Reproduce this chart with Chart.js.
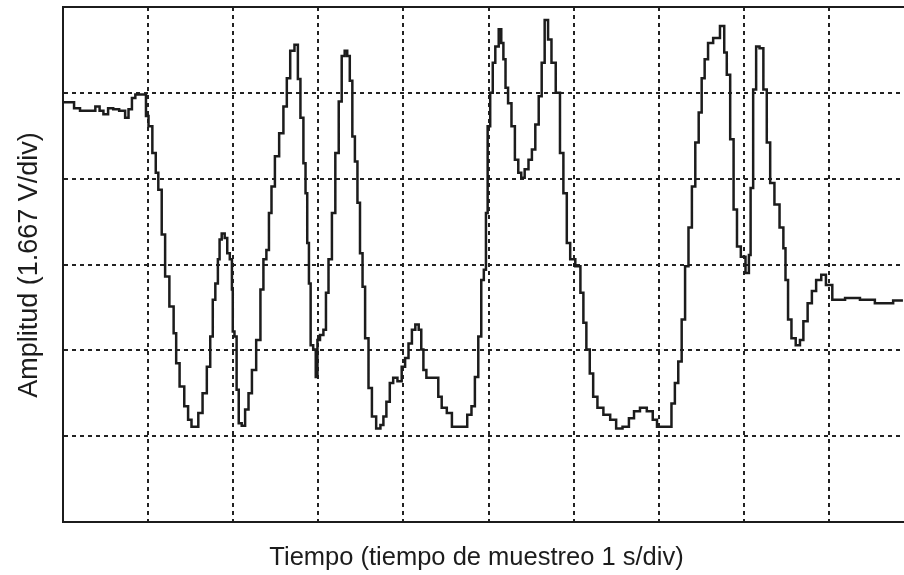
<!DOCTYPE html>
<html>
<head>
<meta charset="utf-8">
<title>Amplitud vs tiempo</title>
<script src="https://cdn.jsdelivr.net/npm/chart.js@4.4.1/dist/chart.umd.min.js"></script>
<style>
  html, body { margin: 0; padding: 0; background: #fff; overflow: hidden; }
  #wrap { width: 924px; height: 575px; }
</style>
</head>
<body>
<div id="wrap"><canvas id="scopeChart" width="924" height="575"></canvas></div>
<script>
// tiempo en s (1 s/div), amplitud en divisiones (1.667 V/div)
const timeS = [
  0, 0.10, 0.16, 0.24, 0.36, 0.40, 0.46, 0.49, 0.57, 0.61,
  0.71, 0.75, 0.79, 0.83, 0.87, 0.96, 0.99, 1.02, 1.08, 1.10,
  1.14, 1.18, 1.22, 1.28, 1.32, 1.34, 1.40, 1.45, 1.49, 1.53,
  1.57, 1.61, 1.67, 1.71, 1.75, 1.77, 1.81, 1.83, 1.85, 1.88,
  1.92, 1.94, 1.98, 1.99, 2.00, 2.03, 2.05, 2.08, 2.12, 2.16,
  2.20, 2.24, 2.30, 2.34, 2.37, 2.41, 2.43, 2.47, 2.51, 2.57,
  2.61, 2.65, 2.69, 2.75, 2.77, 2.81, 2.84, 2.86, 2.88, 2.90,
  2.92, 2.96, 2.98, 3.00, 3.04, 3.08, 3.10, 3.14, 3.18, 3.22,
  3.26, 3.29, 3.33, 3.35, 3.39, 3.41, 3.45, 3.47, 3.51, 3.53,
  3.57, 3.61, 3.65, 3.71, 3.75, 3.78, 3.82, 3.86, 3.90, 3.96,
  4.00, 4.04, 4.08, 4.12, 4.16, 4.20, 4.22, 4.25, 4.29, 4.39,
  4.43, 4.47, 4.55, 4.59, 4.72, 4.78, 4.82, 4.86, 4.90, 4.93,
  4.96, 4.98, 5.00, 5.04, 5.06, 5.10, 5.14, 5.16, 5.19, 5.21,
  5.25, 5.29, 5.33, 5.37, 5.40, 5.45, 5.49, 5.53, 5.57, 5.61,
  5.64, 5.68, 5.72, 5.76, 5.82, 5.86, 5.90, 5.94, 5.98, 6.06,
  6.10, 6.13, 6.17, 6.21, 6.25, 6.31, 6.39, 6.47, 6.53, 6.62,
  6.68, 6.74, 6.82, 6.90, 6.96, 7.00, 7.13, 7.17, 7.21, 7.25,
  7.29, 7.33, 7.37, 7.41, 7.45, 7.49, 7.52, 7.56, 7.60, 7.68,
  7.76, 7.78, 7.82, 7.86, 7.90, 7.94, 7.99, 8.05, 8.07, 8.09,
  8.13, 8.16, 8.21, 8.25, 8.29, 8.33, 8.39, 8.45, 8.48, 8.50,
  8.54, 8.58, 8.64, 8.68, 8.72, 8.78, 8.82, 8.88, 8.94, 8.99,
  9.09, 9.29, 9.44, 9.64, 9.87
];

const amplitudeDiv = [
  4.89, 4.89, 4.82, 4.79, 4.79, 4.84, 4.79, 4.75, 4.82, 4.81,
  4.79, 4.71, 4.81, 4.94, 4.98, 4.98, 4.73, 4.61, 4.30, 4.07,
  3.87, 3.35, 2.86, 2.51, 2.20, 1.85, 1.58, 1.35, 1.19, 1.11,
  1.11, 1.27, 1.50, 1.81, 2.16, 2.59, 2.78, 3.06, 3.29, 3.36,
  3.31, 3.13, 3.06, 2.71, 2.22, 2.16, 1.54, 1.15, 1.12, 1.31,
  1.50, 1.77, 2.12, 2.71, 3.06, 3.17, 3.60, 3.91, 4.26, 4.53,
  4.84, 5.17, 5.49, 5.56, 5.16, 4.71, 4.18, 3.83, 3.25, 2.78,
  2.06, 2.01, 1.69, 2.12, 2.18, 2.24, 2.67, 3.06, 3.60, 4.30,
  4.90, 5.43, 5.49, 5.43, 5.14, 4.49, 4.20, 3.72, 3.13, 2.74,
  2.14, 1.56, 1.23, 1.09, 1.13, 1.23, 1.40, 1.62, 1.68, 1.64,
  1.81, 1.91, 2.08, 2.24, 2.30, 2.24, 2.01, 1.77, 1.68, 1.68,
  1.46, 1.33, 1.27, 1.11, 1.11, 1.25, 1.35, 1.69, 2.16, 2.82,
  2.94, 3.60, 4.61, 5.00, 5.35, 5.54, 5.74, 5.58, 5.39, 5.06,
  4.88, 4.61, 4.22, 4.07, 4.01, 4.11, 4.22, 4.34, 4.63, 4.96,
  5.35, 5.85, 5.62, 5.35, 5.00, 4.30, 3.83, 3.25, 3.06, 2.98,
  2.67, 2.32, 2.01, 1.73, 1.46, 1.33, 1.25, 1.19, 1.09, 1.11,
  1.21, 1.29, 1.33, 1.29, 1.19, 1.11, 1.11, 1.38, 1.62, 1.87,
  2.36, 2.98, 3.43, 3.91, 4.42, 4.77, 5.17, 5.39, 5.58, 5.64,
  5.78, 5.47, 5.21, 4.46, 3.64, 3.21, 3.09, 2.90, 3.11, 3.89,
  5.04, 5.54, 5.52, 5.04, 4.42, 3.95, 3.70, 3.43, 3.19, 2.82,
  2.36, 2.14, 2.06, 2.12, 2.34, 2.55, 2.69, 2.82, 2.88, 2.76,
  2.59, 2.61, 2.59, 2.55, 2.58
];

const X_DIVISIONS = 10;
const Y_DIVISIONS = 6;
const X_TITLE = 'Tiempo (tiempo de muestreo 1 s/div)';
const Y_TITLE = 'Amplitud (1.667 V/div)';

const INK = '#1c1c1c';
const GRID_INK = '#222222';

const points = timeS.map((t, i) => ({ x: t, y: amplitudeDiv[i] }));

const axisTitles = {
  id: 'axisTitles',
  afterDraw(chart) {
    const { ctx } = chart;
    ctx.save();
    ctx.fillStyle = INK;
    ctx.textAlign = 'center';
    ctx.textBaseline = 'alphabetic';

    ctx.font = '25.5px "Liberation Sans", Arial, sans-serif';
    ctx.fillText(X_TITLE, 476.5, 565);

    ctx.translate(36.5, 265);
    ctx.rotate(-Math.PI / 2);
    ctx.font = '27px "Liberation Sans", Arial, sans-serif';
    ctx.fillText(Y_TITLE, 0, 0);
    ctx.restore();
  },
};

const gridScale = (max, position) => ({
  type: 'linear',
  position,
  min: 0,
  max,
  ticks: { display: false, stepSize: 1 },
  grid: { color: GRID_INK, lineWidth: 2, drawTicks: false },
  border: { display: true, color: INK, width: 2, dash: [4, 4] },
});

new Chart(document.getElementById('scopeChart'), {
  type: 'line',
  data: {
    datasets: [
      {
        data: points,
        borderColor: INK,
        borderWidth: 2.5,
        pointRadius: 0,
        stepped: 'middle',
        fill: false,
      },
    ],
  },
  options: {
    responsive: false,
    animation: false,
    devicePixelRatio: 1,
    layout: { padding: { left: 63, top: 7, right: 10, bottom: 53 } },
    scales: {
      x: gridScale(X_DIVISIONS, 'bottom'),
      y: gridScale(Y_DIVISIONS, 'left'),
      xTop: {
        type: 'linear',
        position: 'top',
        min: 0,
        max: X_DIVISIONS,
        ticks: { display: false },
        grid: { display: false, drawTicks: false },
        border: { display: true, color: INK, width: 2 },
      },
    },
    plugins: {
      legend: { display: false },
      tooltip: { enabled: false },
    },
  },
  plugins: [axisTitles],
});
</script>
</body>
</html>
